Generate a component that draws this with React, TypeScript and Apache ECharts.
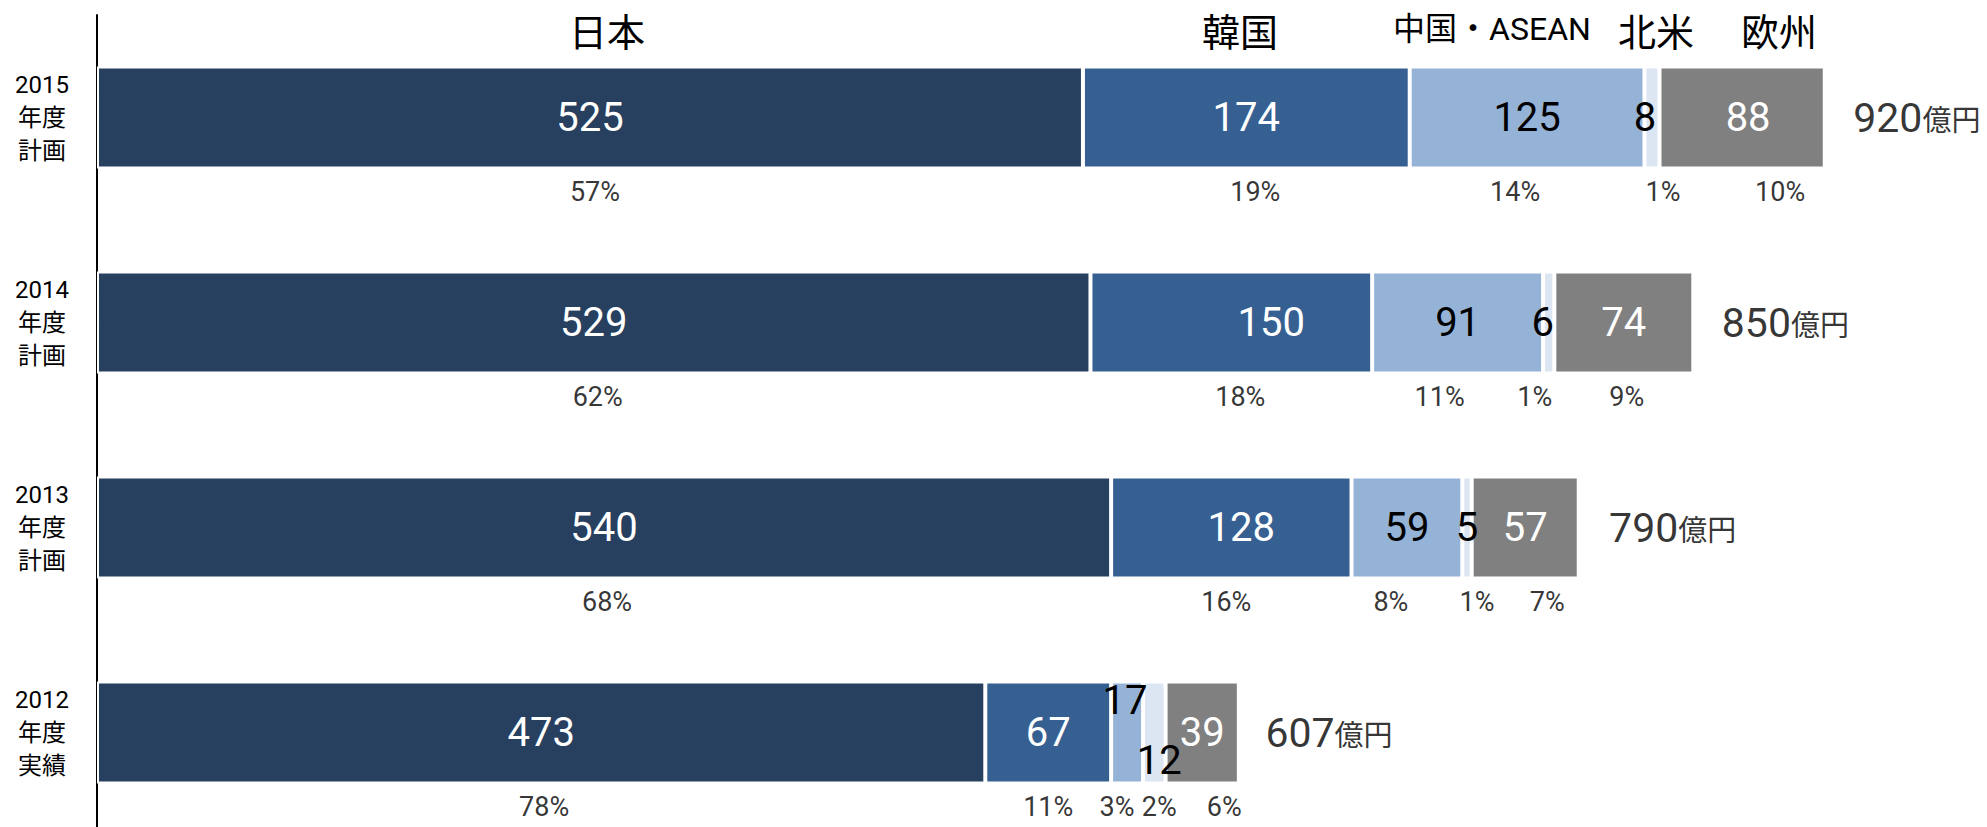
import React, { useEffect, useRef } from "react";
import * as echarts from "echarts";

const categories = ["2015\n年度\n計画", "2014\n年度\n計画", "2013\n年度\n計画", "2012\n年度\n実績"];
const regions = ["日本", "韓国", "中国・ASEAN", "北米", "欧州"];
const japan = [525, 529, 540, 473];
const korea = [174, 150, 128, 67];
const chinaAsean = [125, 91, 59, 17];
const northAmerica = [8, 6, 5, 12];
const europe = [88, 74, 57, 39];
const totals = [920, 850, 790, 607];
const pctJapan = ["57%", "62%", "68%", "78%"];
const pctKorea = ["19%", "18%", "16%", "11%"];
const pctChinaAsean = ["14%", "11%", "8%", "3%"];
const pctNorthAmerica = ["1%", "1%", "1%", "2%"];
const pctEurope = ["10%", "9%", "7%", "6%"];

// styling
const colors = ["#27405F", "#366092", "#95B3D7", "#DCE6F2", "#808080"];
const labelColors = ["#fff", "#fff", "#000", "#000", "#fff"];
const FONT = "Roboto, 'Noto Sans CJK JP', sans-serif";
// label nudges (px) [region][category]
const valueNudge = [
  [[0, 0], [0, 0], [0, 0], [0, 0]],
  [[0, 0], [40, 0], [10, 0], [0, 0]],
  [[0, 0], [0, 0], [0, 0], [-2, -32]],
  [[-7, 0], [-6, 0], [0, 0], [5, 28]],
  [[6, 0], [0, 0], [0, 0], [0, 0]],
];
const pctNudge = [
  [5, 4, 3, 3],
  [9, 9, -5, 0],
  [-12, -18, -16, -10],
  [11, -14, 10, 5],
  [38, 3, 22, 22],
];
const headerPos = [
  { x: 607, y: 33, size: 38 },
  { x: 1240, y: 33, size: 38 },
  { x: 1492, y: 29, size: 32 },
  { x: 1656, y: 33, size: 38 },
  { x: 1779, y: 33, size: 38 },
];

export default function App() {
  const ref = useRef<HTMLDivElement>(null);
  useEffect(() => {
    if (!ref.current) return;
    const chart = echarts.init(ref.current, undefined, { renderer: "svg" });
    const seriesValues = [japan, korea, chinaAsean, northAmerica, europe];
    const pcts = [pctJapan, pctKorea, pctChinaAsean, pctNorthAmerica, pctEurope];

    const barSeries = seriesValues.map((vals, i) => ({
      name: regions[i],
      type: "bar",
      stack: "total",
      barWidth: 102,
      itemStyle: { color: colors[i], borderColor: "#fff", borderWidth: 2 },
      label: {
        show: true,
        position: "inside",
        color: labelColors[i],
        fontSize: 40,
        fontFamily: FONT,
        textBorderWidth: 0,
      },
      data: vals.map((v, j) => ({ value: v, label: { offset: valueNudge[i][j] } })),
    }));

    const pctData: any[] = [];
    categories.forEach((_, j) => {
      let acc = 0;
      seriesValues.forEach((vals, i) => {
        const mid = acc + vals[j] / 2;
        acc += vals[j];
        pctData.push({
          value: [mid, j],
          label: { formatter: pcts[i][j], offset: [pctNudge[i][j], 74] },
        });
      });
    });

    const option = {
      animation: false,
      textStyle: { fontFamily: FONT },
      grid: { left: 97, top: 15, width: 1878, height: 820, outerBoundsMode: "none", containLabel: false },
      xAxis: { type: "value", min: 0, max: 1000, show: false },
      yAxis: {
        type: "category",
        inverse: true,
        data: categories,
        axisLine: { show: true, lineStyle: { color: "#000", width: 2 } },
        axisTick: { show: false },
        axisLabel: {
          align: "center",
          margin: 55,
          fontSize: 24,
          lineHeight: 33,
          color: "#000",
          fontFamily: FONT,
        },
      },
      graphic: regions.map((r, i) => ({
        type: "text",
        x: headerPos[i].x,
        y: headerPos[i].y,
        style: {
          text: r,
          fontSize: headerPos[i].size,
          fontFamily: FONT,
          fill: "#000",
          textAlign: "center",
          verticalAlign: "middle",
          textVerticalAlign: "middle",
        },
      })),
      series: [
        ...barSeries,
        {
          type: "scatter",
          symbolSize: 1,
          itemStyle: { color: "rgba(0,0,0,0)" },
          label: {
            show: true,
            position: "inside",
            fontSize: 27,
            color: "#000",
            fontFamily: FONT,
          },
          data: pctData,
          z: 5,
        },
        {
          type: "scatter",
          symbolSize: 1,
          itemStyle: { color: "rgba(0,0,0,0)" },
          label: {
            show: true,
            position: "right",
            distance: 28,
            color: "#000",
            formatter: (p: any) => `{a|${p.value[0]}}{b|億円}`,
            rich: {
              a: { fontSize: 41, color: "#000", fontFamily: FONT, verticalAlign: "bottom" },
              b: { fontSize: 29, color: "#000", fontFamily: FONT, verticalAlign: "bottom", padding: [0, 0, 3, 0] },
            },
          },
          data: totals.map((t, j) => [t, j]),
          z: 5,
        },
      ],
    };
    chart.setOption(option as any);
    return () => chart.dispose();
  }, []);
  return (
    <div
      ref={ref}
      style={{ position: "absolute", left: 0, top: 0, width: 1987, height: 827, background: "#fff" }}
    />
  );
}
